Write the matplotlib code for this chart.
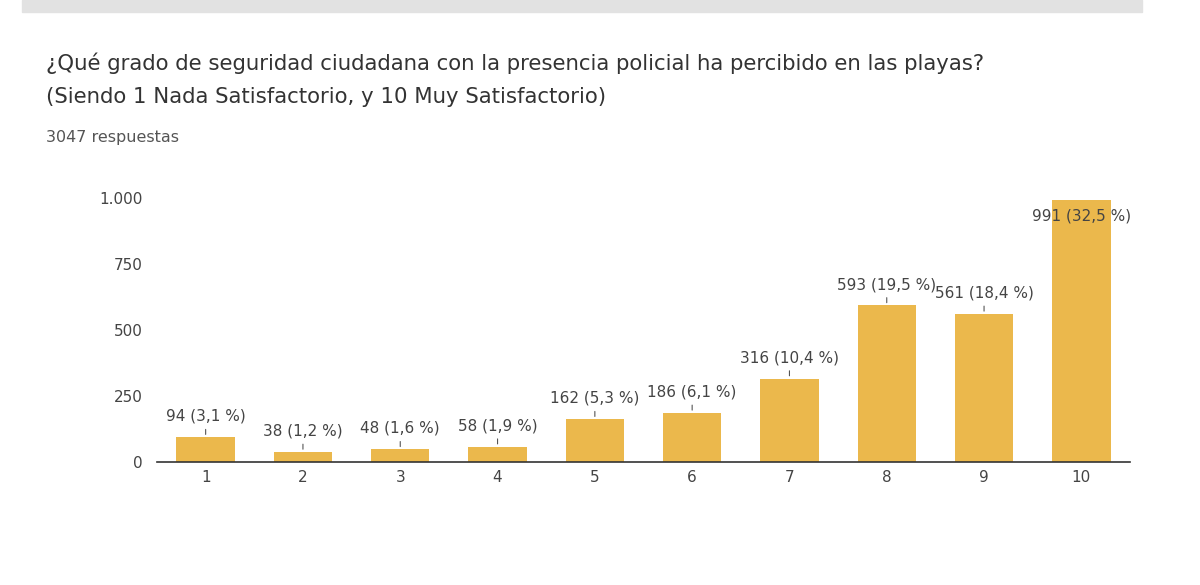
import numpy as np
import matplotlib.pyplot as plt
from matplotlib.patches import Rectangle

plt.rcParams['font.family'] = ['DejaVu Sans']

# Data
title_1 = "¿Qué grado de seguridad ciudadana con la presencia policial ha percibido en las playas?"
title_2 = "(Siendo 1 Nada Satisfactorio, y 10 Muy Satisfactorio)"
categories = ['1', '2', '3', '4', '5', '6', '7', '8', '9', '10']
counts = [94, 38, 48, 58, 162, 186, 316, 593, 561, 991]
yticks = [0, 250, 500, 750, 1000]
ytick_labels = ['0', '250', '500', '750', '1.000']

total = sum(counts)
bar_color = '#ebb84c'

fig = plt.figure(figsize=(12, 5.85), dpi=100)

# gray band at top of card
fig.patches.append(Rectangle((22 / 1200, 1 - 12 / 585), 1120 / 1200, 12 / 585,
                             transform=fig.transFigure, color='#e2e2e2', zorder=0))

fig.text(46 / 1200, 1 - 63 / 585, title_1, fontsize=15.3, color='#333333', va='center')
fig.text(46 / 1200, 1 - 97 / 585, title_2, fontsize=15.3, color='#333333', va='center')
fig.text(46 / 1200, 1 - 137 / 585, f"{total} respuestas", fontsize=11.5, color='#555555', va='center')

ax = fig.add_axes([157 / 1200, 123 / 585, 973 / 1200, 264 / 585])
x = np.arange(len(categories))
bars = ax.bar(x, counts, width=0.6, color=bar_color, zorder=2)

ax.set_xlim(-0.5, len(categories) - 0.5)
ax.set_ylim(0, 1000)
ax.set_yticks(yticks)
ax.set_yticklabels(ytick_labels)
ax.set_xticks(x)
ax.set_xticklabels(categories)
ax.tick_params(axis='both', length=0, labelsize=11, colors='#444444')
ax.tick_params(axis='y', pad=10)
ax.tick_params(axis='x', pad=6)

for side in ['top', 'right', 'left']:
    ax.spines[side].set_visible(False)
ax.spines['bottom'].set_color('#333333')
ax.spines['bottom'].set_linewidth(1.2)

# value labels with a short leader line
for rect, c in zip(bars, counts):
    pct = f"{c / total * 100:.1f}".replace('.', ',')
    label = f"{c} ({pct} %)"
    cx = rect.get_x() + rect.get_width() / 2
    h = rect.get_height()
    if h > 900:
        ax.annotate(label, xy=(cx, h), xytext=(0, -6), textcoords='offset points',
                    ha='center', va='top', fontsize=11, color='#444444', zorder=3)
    else:
        ax.annotate('', xy=(cx, h), xytext=(cx, h + 40),
                    arrowprops=dict(arrowstyle='-', color='#555555', lw=0.8))
        ax.annotate(label, xy=(cx, h + 40), xytext=(0, 2), textcoords='offset points',
                    ha='center', va='bottom', fontsize=11, color='#444444', zorder=3)

plt.savefig("out.png", dpi=100)
